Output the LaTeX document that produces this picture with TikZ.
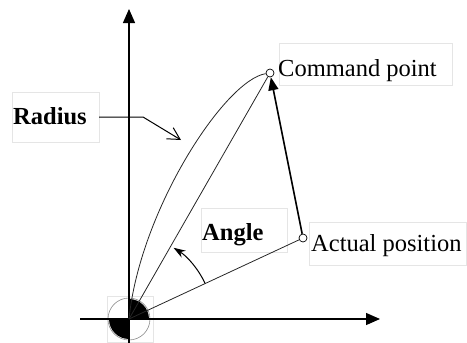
\documentclass[tikz,border=0pt]{standalone}
\usepackage{fontspec}
\setmainfont{Liberation Serif}
\usetikzlibrary{arrows.meta,calc}
\begin{document}
\begin{tikzpicture}[x=1pt,y=-1pt,
  lbl/.style={anchor=base west,inner sep=0pt,font=\fontsize{24.5}{27}\selectfont},
  blbl/.style={lbl,font=\fontsize{24.5}{27}\selectfont\bfseries},
  faintbox/.style={draw=black!10,line width=0.6pt},
  thin line/.style={line width=0.8pt,black!85},
  axis/.style={line width=1.4pt,-{Triangle[length=14pt,width=12pt]}},
  pt/.style={circle,draw,line width=0.7pt,fill=white,inner sep=0pt,minimum size=8pt}]
\useasboundingbox (0,0) rectangle (467,343);
% faint label boxes
\draw[faintbox] (12,92) rectangle (99,142);
\draw[faintbox] (201,208) rectangle (287,252);
\draw[faintbox] (309,222) rectangle (466,265);
\draw[faintbox] (279,43) rectangle (452,85);
\draw[faintbox] (107,296) rectangle (153,342);
% origin symbol
\coordinate (O) at (129,319);
\draw[black!45,line width=0.6pt] (O) circle[radius=21];
\fill (O) -- ++(20,0) arc[start angle=0,end angle=-90,radius=20] -- cycle;
\fill (O) -- ++(0,20) arc[start angle=90,end angle=180,radius=20] -- cycle;
% axes
\coordinate (vb) at (129,343);
\coordinate (vt) at (129,9);
\coordinate (hl) at (80,319);
\coordinate (hr) at (380,319);
\draw[axis] (vb) -- (vt);
\draw[axis] (hl) -- (hr);
% points
\node[pt] (C) at (270,73) {};
\node[pt] (A) at (303,238) {};
% lines
\draw[thin line] (O) -- (C);
\draw[thin line] (O) -- (A);
\draw[thin line] (O) .. controls (140,210) and (225,80) .. (C);
\draw[line width=1.6pt,-{Triangle[length=13pt,width=10pt]}] (A) -- (C);
% angle arc
\draw[line width=1pt,-{Stealth[length=12pt,width=8pt]}] ($(O)+(-25:84)$) arc[start angle=-25,end angle=-58,radius=84];
% radius pointer
\node[blbl] (R) at (13,124) {Radius};
\coordinate (rs) at (99,117);
\coordinate (rb) at (143,117);
\coordinate (rt) at (181,140);
\draw[line width=1pt,-{Straight Barb[length=12pt,width=13pt]}] (rs) -- (rb) -- (rt);
% labels
\node[blbl] (ang) at (202,240) {Angle};
\node[lbl] (cp) at (278,76) {Command point};
\node[lbl] (ap) at (311,251) {Actual position};
\end{tikzpicture}
\end{document}
